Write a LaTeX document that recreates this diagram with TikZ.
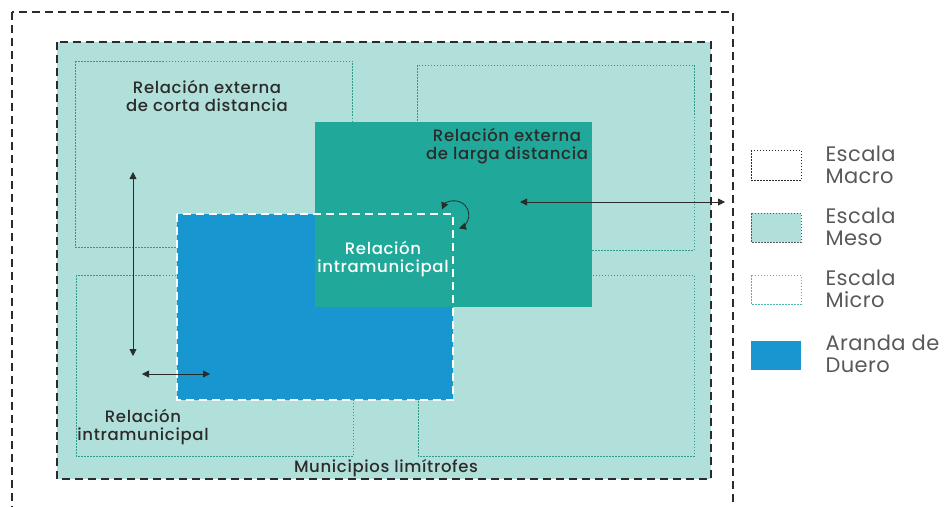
\documentclass[tikz,border=0pt]{standalone}
\usepackage{fontspec}
\setmainfont{Poppins}
\newfontfamily\medfont[LetterSpace=4]{Poppins Medium}
\newfontfamily\legfont[LetterSpace=2]{Poppins}
\usetikzlibrary{arrows.meta}
\definecolor{ink}{HTML}{2B2B2B}
\definecolor{grey}{HTML}{58595B}
\definecolor{meso}{HTML}{B1E0DB}
\definecolor{larga}{HTML}{20A89A}
\definecolor{aranda}{HTML}{1796D0}
\definecolor{micro}{HTML}{2E9C88}
\tikzset{
  macroline/.style={draw=ink, line width=2.2pt, dash pattern=on 8pt off 5pt},
  microline/.style={draw=micro, line width=0.8pt, dash pattern=on 1.5pt off 1.5pt},
  whiteline/.style={draw=white, line width=1.1pt, dash pattern=on 8pt off 5pt},
  rel/.style={<->, >={Triangle[length=7pt,width=7pt]}, draw=ink, line width=0.8pt},
  lab/.style={text=ink, align=center, font=\medfont\fontsize{16.5}{18}\selectfont},
  leg/.style={text=grey, align=left, anchor=west, font=\legfont\fontsize{21}{22.5}\selectfont},
  legbox/.style={line width=0.9pt, dash pattern=on 1.5pt off 1.5pt},
}

\begin{document}
\begin{tikzpicture}[x=1pt,y=-1pt]
  \useasboundingbox (0,0) rectangle (944,506);
  % escala macro y meso
  \draw[macroline] (12,12) rectangle (733,514);
  \fill[meso] (57,42) rectangle (711,479);
  \draw[macroline] (57,42) rectangle (711,479);
  % escala micro
  \draw[microline] (75,61) rectangle (352,247);
  \draw[microline] (417,65) rectangle (694,250);
  \draw[microline] (76,275) rectangle (353,456);
  \draw[microline] (418,275) rectangle (694,456);
  % Aranda de Duero y relacion de larga distancia
  \fill[aranda] (177,214) rectangle (453,400);
  \fill[larga] (315,122) rectangle (592,307);
  \draw[whiteline] (177,214) rectangle (453,400);

  \node[lab] (corta) at (207,96) {Relación externa\\de corta distancia};
  \node[lab] (largatxt) at (507,146) {Relación externa\\de larga distancia};
  \node[lab,text=white] (intra) at (383,259) {Relación\\intramunicipal};
  \node[lab] (intrab) at (143,427) {Relación\\intramunicipal};
  \node[lab] (limit) at (386,468) {Municipios limítrofes};

  \coordinate (vtop) at (133,172);
  \coordinate (vbot) at (133,356);
  \coordinate (hl) at (142,374);
  \coordinate (hr) at (210,374);
  \coordinate (ll) at (520,202);
  \coordinate (lr) at (725,202);
  \draw[rel] (vtop) -- (vbot);
  \draw[rel] (hl) -- (hr);
  \draw[rel] (ll) -- (lr);
  % flecha circular en la esquina
  \draw[rel] (442,209.5) arc[start angle=203, end angle=433, radius=14];

  % leyenda
  \draw[legbox, draw=ink, fill=white] (751,150) rectangle (801,180);
  \draw[legbox, draw=grey, fill=meso] (751,213) rectangle (801,242);
  \draw[legbox, draw=larga!80!white, fill=white] (751,275) rectangle (801,304);
  \fill[aranda] (751,341) rectangle (801,370);
  \node[leg] (macro) at (822,165) {Escala\\Macro};
  \node[leg] (mesotxt) at (822,227) {Escala\\Meso};
  \node[leg] (microtxt) at (822,289) {Escala\\Micro};
  \node[leg] (duero) at (822,354) {Aranda de\\Duero};
\end{tikzpicture}
\end{document}
